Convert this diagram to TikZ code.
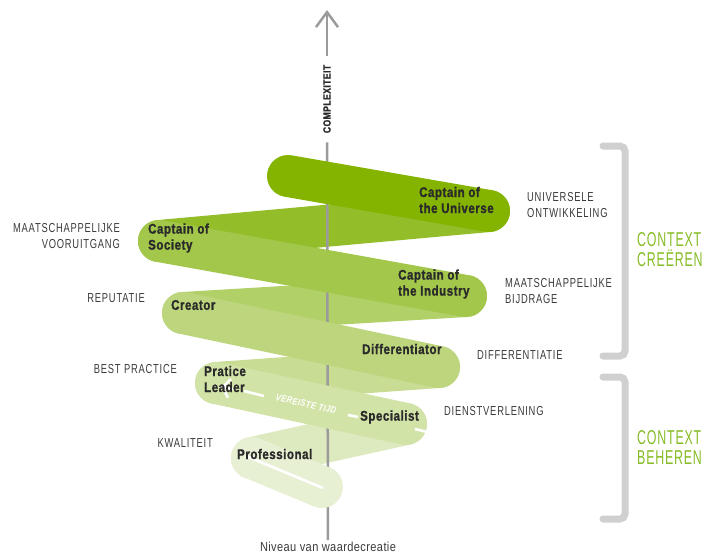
\documentclass[tikz,border=0pt]{standalone}
\usepackage{fontspec}
\setmainfont{Liberation Sans}
\newfontfamily\bandfont[FakeStretch=0.82,LetterSpace=4,BoldFeatures={FakeBold=1.2}]{Liberation Sans}
\newfontfamily\sidefont[FakeStretch=0.72,LetterSpace=6]{Liberation Sans}
\newfontfamily\ctxfont[FakeStretch=0.62,LetterSpace=4]{Liberation Sans}
\newfontfamily\basefont[FakeStretch=0.85,LetterSpace=3]{Liberation Sans}
\usepackage{tikz}
\usetikzlibrary{arrows.meta}
\usepackage{xcolor}

\definecolor{bandA}{HTML}{84B400}
\definecolor{bandB}{HTML}{93BE2A}
\definecolor{bandC}{HTML}{A2C74A}
\definecolor{bandD}{HTML}{B2D068}
\definecolor{bandE}{HTML}{BDD67D}
\definecolor{bandF}{HTML}{C8DC93}
\definecolor{bandG}{HTML}{D2E3A7}
\definecolor{bandH}{HTML}{DDE9BE}
\definecolor{bandI}{HTML}{E8F0D3}
\definecolor{axisgray}{HTML}{9B9B9B}
\definecolor{brgray}{HTML}{D0D0D0}
\definecolor{labelgray}{HTML}{2A2A2A}
\definecolor{sidegray}{HTML}{3A3A3A}
\definecolor{ctxgreen}{HTML}{86BC25}

\begin{document}
\begin{tikzpicture}[x=1pt,y=-1pt,
  band/.style={line width=42pt,line cap=round},
  axisline/.style={draw=axisgray,line width=2.5pt},
  tijd/.style={draw=white,line width=2.6pt},
  lbl/.style={font=\bandfont\bfseries\fontsize{14}{16}\selectfont,text=labelgray,inner sep=0pt,anchor=west,align=left},
  side/.style={font=\sidefont\fontsize{13}{15.5}\selectfont,text=sidegray,inner sep=0pt},
  bracket/.style={draw=brgray,line width=7pt,line cap=round,rounded corners=5pt},
  ctx/.style={font=\ctxfont\fontsize{20}{20}\selectfont,text=ctxgreen,inner sep=0pt,anchor=west,align=left}]
\useasboundingbox (0,0) rectangle (706,555);

% ends of the zigzag
\coordinate (p1) at (288,176);
\coordinate (p2) at (489,211);
\coordinate (p3) at (159,241);
\coordinate (p4) at (466,296);
\coordinate (p5) at (183,313);
\coordinate (p6) at (439,367);
\coordinate (p7) at (216,383);
\coordinate (p8) at (406,424);
\coordinate (p9) at (252,458);
\coordinate (p10) at (322,487);

% back bands
\draw[band,bandB] (p2) -- (p3);
\draw[band,bandD] (p4) -- (p5);
\draw[band,bandF] (p6) -- (p7);
\draw[band,bandH] (p8) -- (p9);

% axis
\node[font=\bandfont\bfseries\fontsize{10.5}{12}\selectfont,text=labelgray,rotate=90,inner xsep=9pt,inner ysep=2pt] (cplx) at (327,99) {COMPLEXITEIT};
\node[font=\basefont\fontsize{13}{15}\selectfont,text=sidegray,inner sep=2pt] (niveau) at (328,547) {Niveau van waardecreatie};
\coordinate (axtop) at (327,10);
\draw[axisline] (niveau) -- (cplx);
\draw[axisline,-{Straight Barb[length=15pt,width=22pt]}] (cplx) -- (axtop);

% front bands
\draw[band,bandA] (p1) -- (p2);
\draw[band,bandC] (p3) -- (p4);
\draw[band,bandE] (p5) -- (p6);
\draw[band,bandG] (p7) -- (p8);
\draw[band,bandI] (p9) -- (p10);

% vereiste tijd
\coordinate (t1) at (323,488);
\coordinate (t2) at (246,456);
\coordinate (t3) at (427,432);
\coordinate (t4) at (415,429);
\coordinate (t5) at (358,417);
\coordinate (t6) at (348,415);
\coordinate (t7) at (264,396);
\coordinate (t8) at (244,391);
\coordinate (t9) at (233,389);
\coordinate (t10) at (221,387);
\draw[tijd] (t1) -- (t2);
\draw[tijd] (t3) -- (t4);
\draw[tijd] (t5) -- (t6);
\draw[tijd] (t7) -- (t8);
\draw[tijd,-{Straight Barb[length=7pt,width=19pt]}] (t9) -- (t10);
\node[font=\bandfont\bfseries\itshape\fontsize{9.5}{11}\selectfont,text=white,rotate=-13,inner sep=0pt] (tijdtxt) at (306,404) {VEREISTE TIJD};

% labels in the bands
\node[lbl] (universe) at (419,200) {Captain of\\the Universe};
\node[lbl] (society) at (148,238) {Captain of\\Society};
\node[lbl] (industry) at (398,284) {Captain of\\the Industry};
\node[lbl] (creator) at (171,305) {Creator};
\node[lbl] (differ) at (362,349) {Differentiator};
\node[lbl] (leader) at (204,379) {Pratice\\Leader};
\node[lbl] (special) at (360,417) {Specialist};
\node[lbl] (prof) at (237,454) {Professional};

% side labels
\node[side,anchor=west,align=left] (univ) at (527,205) {UNIVERSELE\\ONTWIKKELING};
\node[side,anchor=west,align=left] (bijdrage) at (505,291) {MAATSCHAPPELIJKE\\BIJDRAGE};
\node[side,anchor=west] (differentiatie) at (477,355) {DIFFERENTIATIE};
\node[side,anchor=west] (dienst) at (444,411) {DIENSTVERLENING};
\node[side,anchor=east,align=right] (vooruit) at (120,236) {MAATSCHAPPELIJKE\\VOORUITGANG};
\node[side,anchor=east] (reputatie) at (145,298) {REPUTATIE};
\node[side,anchor=east] (best) at (177,369) {BEST PRACTICE};
\node[side,anchor=east] (kwaliteit) at (213,443) {KWALITEIT};

% brackets
\coordinate (ba1) at (603,146);
\coordinate (ba2) at (625,146);
\coordinate (ba3) at (625,356);
\coordinate (ba4) at (603,356);
\coordinate (bb1) at (603,377);
\coordinate (bb2) at (625,377);
\coordinate (bb3) at (625,519);
\coordinate (bb4) at (603,519);
\draw[bracket] (ba1) -- (ba2) -- (ba3) -- (ba4);
\draw[bracket] (bb1) -- (bb2) -- (bb3) -- (bb4);
\node[ctx] (creeren) at (637,250) {CONTEXT\\CREËREN};
\node[ctx] (beheren) at (637,448) {CONTEXT\\BEHEREN};
\end{tikzpicture}
\end{document}
